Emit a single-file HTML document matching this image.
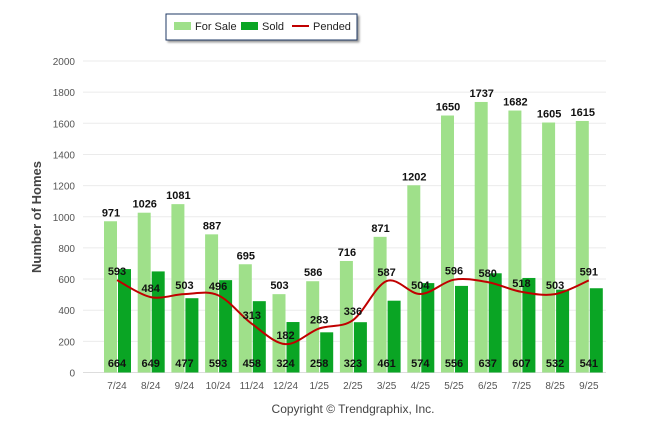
<!DOCTYPE html>
<html><head><meta charset="utf-8"><style>
body{margin:0;background:#fff;font-family:"Liberation Sans",sans-serif}
svg text{font-family:"Liberation Sans",sans-serif}
</style></head><body>
<svg width="646" height="434" id="c">
<g>
<rect x="166" y="14" width="191" height="26" fill="#fff" stroke="#1f3864" stroke-width="1" style="filter:drop-shadow(2px 2px 1px #999)"/>
<rect x="174" y="22" width="17" height="8" fill="#9fe08a"/>
<text x="195" y="30" font-size="11" fill="#222">For Sale</text>
<rect x="241" y="22" width="17" height="8" fill="#0aa524"/>
<text x="262" y="30" font-size="11" fill="#222">Sold</text>
<line x1="292" y1="26" x2="309" y2="26" stroke="#c00000" stroke-width="2"/>
<text x="313" y="30" font-size="11" fill="#222">Pended</text>
</g>
<text transform="translate(41,217) rotate(-90)" text-anchor="middle" font-size="13" font-weight="bold" fill="#444">Number of Homes</text>
<text x="353" y="413" text-anchor="middle" font-size="12" fill="#444">Copyright © Trendgraphix, Inc.</text>
<g id="grid"></g><g id="bars"></g><g id="line"></g><g id="labels"></g>
</svg>
<script>
const categories=["7/24","8/24","9/24","10/24","11/24","12/24","1/25","2/25","3/25","4/25","5/25","6/25","7/25","8/25","9/25"];
const forSale=[971,1026,1081,887,695,503,586,716,871,1202,1650,1737,1682,1605,1615];
const sold=[664,649,477,593,458,324,258,323,461,574,556,637,607,532,541];
const pended=[593,484,503,496,313,182,283,336,587,504,596,580,518,503,591];
const yTicks=[0,200,400,600,800,1000,1200,1400,1600,1800,2000];
const NS="http://www.w3.org/2000/svg";
const y0=372.5,y1=61,left=83,right=606,step=33.7,first=117;
const Y=v=>y0-(v/2000)*(y0-y1);
const X=i=>first+i*step;
function mk(p,tag,a,txt){const e=document.createElementNS(NS,tag);for(const k in a)e.setAttribute(k,a[k]);if(txt!=null)e.textContent=txt;document.getElementById(p).appendChild(e);return e;}
yTicks.forEach(t=>{
 const l=mk('grid','line',{x1:left,x2:right,y1:Y(t),y2:Y(t),stroke:t===0?'#ddd':'#ebebeb'});
 
 
 const tx=mk('grid','text',{x:75,y:Y(t)+4,'text-anchor':'end','font-size':'10',fill:'#555'},t);
 
 
});
categories.forEach((c,i)=>{
 const x=X(i);
 const t=mk('grid','text',{x:x,y:389,'text-anchor':'middle','font-size':'10',fill:'#555'},c);
 
 
 const a=mk('bars','rect',{x:x-13,y:Y(forSale[i]),width:13,height:y0-Y(forSale[i]),fill:'#9fe08a'});
 
 
 const b=mk('bars','rect',{x:x+1,y:Y(sold[i]),width:13,height:y0-Y(sold[i]),fill:'#0aa524'});
 
 
 const l1=mk('labels','text',{x:x-6,y:Y(forSale[i])-5,'text-anchor':'middle','font-size':'11','font-weight':'bold',fill:'#111'},forSale[i]);
 
 
 const l2=mk('labels','text',{x:x,y:367,'text-anchor':'middle','font-size':'11','font-weight':'bold',fill:'#111'},sold[i]);
 
 
 const l3=mk('labels','text',{x:x,y:Y(pended[i])-5,'text-anchor':'middle','font-size':'11','font-weight':'bold',fill:'#111'},pended[i]);
 
 
});
const pts=pended.map((v,i)=>[X(i),Y(v)]);
let d=`M${pts[0][0]},${pts[0][1]}`;
for(let i=0;i<pts.length-1;i++){
 const p0=pts[Math.max(0,i-1)],p1=pts[i],p2=pts[i+1],p3=pts[Math.min(pts.length-1,i+2)];
 const c1=[p1[0]+(p2[0]-p0[0])/6,p1[1]+(p2[1]-p0[1])/6],c2=[p2[0]-(p3[0]-p1[0])/6,p2[1]-(p3[1]-p1[1])/6];
 d+=` C${c1[0]},${c1[1]} ${c2[0]},${c2[1]} ${p2[0]},${p2[1]}`;
}
const ln=mk('line','path',{d:d,fill:'none',stroke:'#c00000','stroke-width':2});


</script>
</body></html>
